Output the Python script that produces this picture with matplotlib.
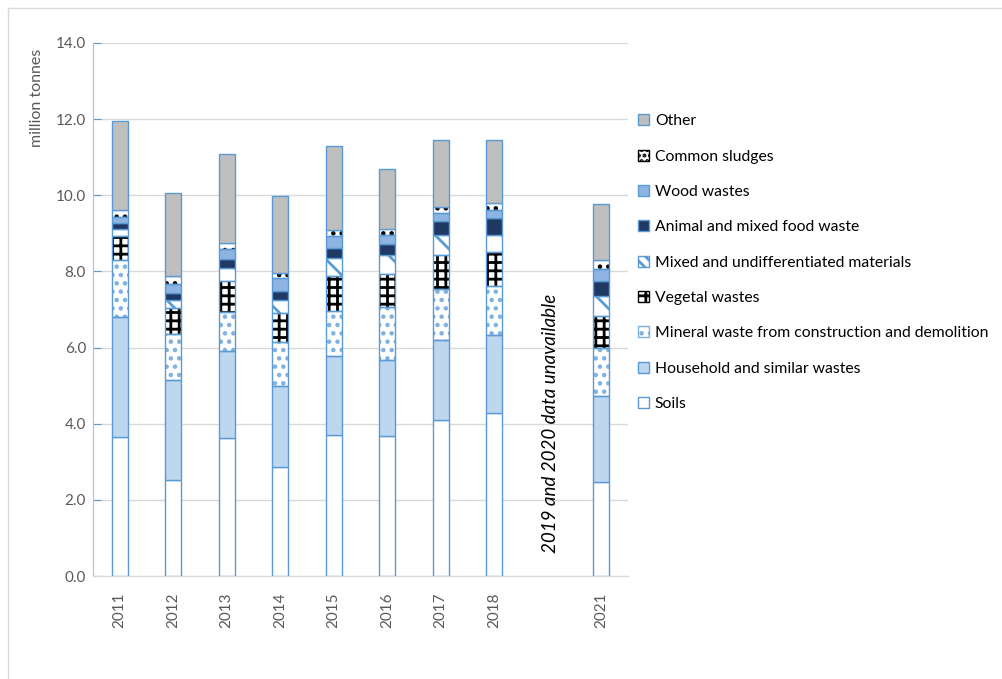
import numpy as np
import matplotlib
matplotlib.use("Agg")
import matplotlib.pyplot as plt
from matplotlib.patches import Patch
from matplotlib.lines import Line2D

# category slots on the x axis ("" = 2019/2020 gap)
slots = ["2011", "2012", "2013", "2014", "2015", "2016", "2017", "2018", "", "2021"]
years = ["2011", "2012", "2013", "2014", "2015", "2016", "2017", "2018", "2021"]

# million tonnes
soils     = [3.64, 2.53, 3.63, 2.87, 3.70, 3.67, 4.11, 4.29, 2.48]
household = [3.16, 2.61, 2.27, 2.12, 2.09, 2.01, 2.09, 2.05, 2.25]
mineral   = [1.49, 1.22, 1.04, 1.15, 1.18, 1.38, 1.35, 1.27, 1.26]
vegetal   = [0.65, 0.67, 0.80, 0.76, 0.92, 0.87, 0.88, 0.89, 0.85]
mixed     = [0.17, 0.23, 0.36, 0.36, 0.46, 0.51, 0.53, 0.46, 0.52]
animal    = [0.16, 0.17, 0.22, 0.23, 0.26, 0.28, 0.37, 0.44, 0.40]
wood      = [0.17, 0.25, 0.27, 0.34, 0.31, 0.24, 0.21, 0.21, 0.30]
sludges   = [0.18, 0.19, 0.15, 0.12, 0.17, 0.15, 0.15, 0.20, 0.25]
other     = [2.34, 2.20, 2.35, 2.03, 2.21, 1.57, 1.76, 1.64, 1.45]

EDGE = "#5B9BD5"
GRID = "#D9D9D9"
TXT = "#595959"

# label, values, facecolor, hatch (bars), hatch (legend), hatch colour
series = [
    ("Soils", soils, "white", None, None, None),
    ("Household and similar wastes", household, "#BDD7EE", None, None, None),
    ("Mineral waste from construction and demolition", mineral, "white", "..", "..", "#7FB0E0"),
    ("Vegetal wastes", vegetal, "white", "++", "++", "black"),
    ("Mixed and undifferentiated materials", mixed, "white", "\\", "\\\\\\", EDGE),
    ("Animal and mixed food waste", animal, "#203864", None, None, None),
    ("Wood wastes", wood, "#8DB4E2", None, None, None),
    ("Common sludges", sludges, "white", "..", "...", "black"),
    ("Other", other, "#BFBFBF", None, None, None),
]

plt.rcParams["font.family"] = ["Lato", "DejaVu Sans"]
plt.rcParams["hatch.linewidth"] = 2.0

fig = plt.figure(figsize=(10.03, 6.79), dpi=100)
ax = fig.add_axes([93 / 1003, 1 - 576 / 679, 535 / 1003, 533 / 679])

x = np.array([slots.index(y) for y in years])
width = 0.30
bottom = np.zeros(len(years))
handles = []
for label, vals, face, hatch, lhatch, hc in series:
    vals = np.array(vals)
    if hatch:
        ax.bar(x, vals, width, bottom=bottom, color=face, edgecolor=hc,
               hatch=hatch, linewidth=0, zorder=2)
        ax.bar(x, vals, width, bottom=bottom, facecolor="none",
               edgecolor=EDGE, linewidth=1, zorder=3)
        handles.append(Patch(facecolor=face, edgecolor=hc, hatch=lhatch, linewidth=1, label=label))
    else:
        ax.bar(x, vals, width, bottom=bottom, color=face, edgecolor=EDGE,
               linewidth=1, zorder=3)
        handles.append(Patch(facecolor=face, edgecolor=EDGE, linewidth=1, label=label))
    bottom += vals

ax.set_xlim(-0.5, len(slots) - 0.5)
ax.set_ylim(0, 14)
ax.set_yticks(np.arange(0, 15, 2))
ax.yaxis.set_major_formatter(matplotlib.ticker.FormatStrFormatter("%.1f"))
ax.set_xticks(range(len(slots)))
ax.set_xticklabels(slots)
ax.yaxis.grid(True, color=GRID, linewidth=1, zorder=0)
ax.set_axisbelow(True)
for s in ["top", "right"]:
    ax.spines[s].set_visible(False)
ax.spines["left"].set_color("#9DC3E6")
ax.spines["bottom"].set_color(GRID)
ax.tick_params(axis="y", direction="in", length=6, color=EDGE,
               labelcolor=TXT, labelsize=11, pad=5)
ax.tick_params(axis="x", length=0, labelrotation=90, labelcolor=TXT,
               labelsize=11, pad=12)

ax.text(slots.index("") + 0.05, 4.0, "2019 and 2020 data unavailable", rotation=90,
        style="italic", fontsize=13.5, ha="center", va="center", color="black")

fig.text(37 / 1003, 1 - 98 / 679, "million tonnes", rotation=90, color=TXT,
         fontsize=11.5, ha="center", va="center")

fig.legend(handles=handles[::-1], loc="upper left",
           bbox_to_anchor=(632 / 1003, 1 - 108 / 679), frameon=False,
           fontsize=11.3, handlelength=0.7, handleheight=0.7,
           handletextpad=0.35, labelspacing=1.36, borderaxespad=0)

# chart-area frame
fig.add_artist(Line2D([8 / 1003, 8 / 1003], [0, 1 - 8 / 679], color=GRID, lw=1))
fig.add_artist(Line2D([8 / 1003, 1], [1 - 8 / 679, 1 - 8 / 679], color=GRID, lw=1))

fig.savefig("out.png", dpi=100)
